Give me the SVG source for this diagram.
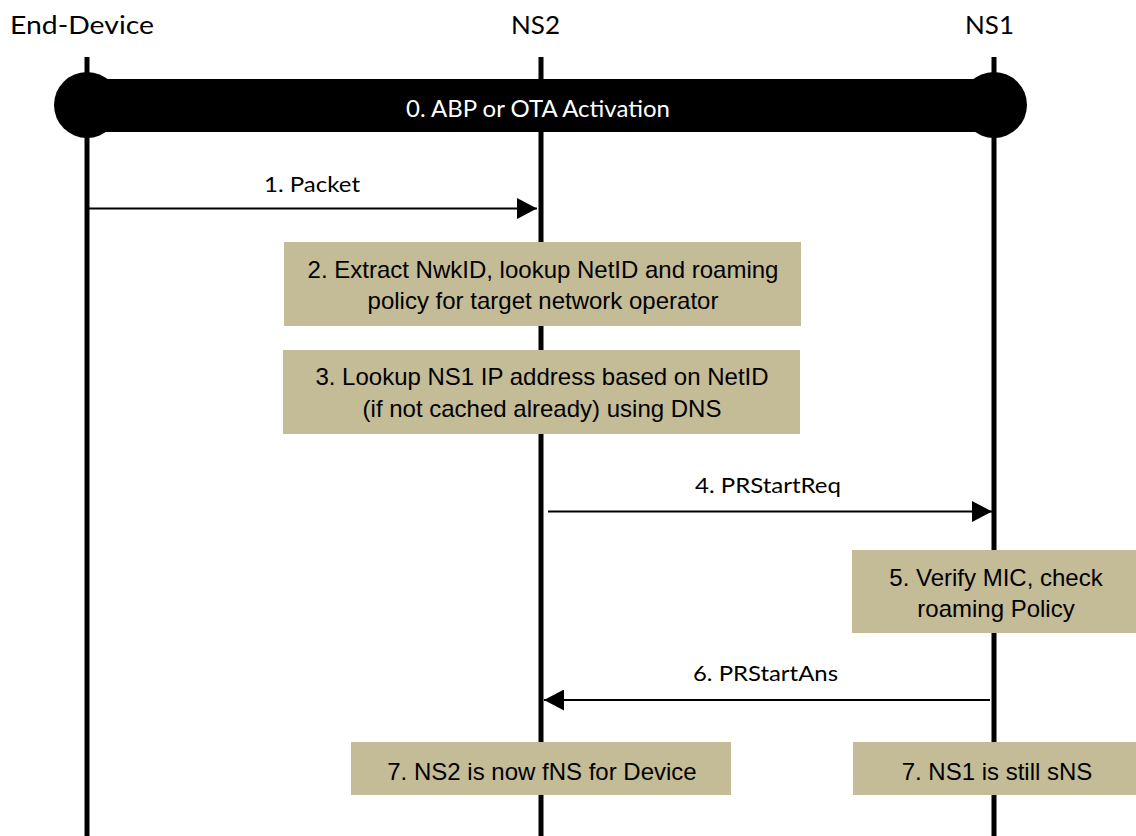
<svg xmlns="http://www.w3.org/2000/svg" width="1136" height="836" viewBox="0 0 1136 836">
  <style>
    .head { font-family: Lato, "Open Sans", "Liberation Sans", sans-serif; font-size: 25px; fill: #000; text-anchor: middle; }
    .msg { font-family: Lato, "Open Sans", "Liberation Sans", sans-serif; font-size: 22px; fill: #000; text-anchor: middle; }
    .act { font-family: Lato, "Open Sans", "Liberation Sans", sans-serif; font-size: 24px; fill: #fff; text-anchor: middle; }
    .note { font-family: "Liberation Sans", Arial, sans-serif; font-size: 24px; fill: #000; text-anchor: middle; }
    .box { fill: #C4BB97; }
    .life { stroke: #000; stroke-width: 5; fill: none; }
    .arrow { stroke: #000; stroke-width: 2; fill: none; }
  </style>
  <defs>
    <marker id="head" markerWidth="20" markerHeight="21" refX="20" refY="10.5" orient="auto" markerUnits="userSpaceOnUse">
      <path d="M0,0 L20,10.5 L0,21 Z" fill="#000"/>
    </marker>
  </defs>

  <rect width="1136" height="836" fill="#fff"/>

  <!-- lifelines -->
  <g id="lifelines">
    <line class="life" x1="87" y1="57" x2="87" y2="836"/>
    <line class="life" x1="541" y1="57" x2="541" y2="836"/>
    <line class="life" x1="994" y1="57" x2="994" y2="836"/>
  </g>

  <g id="end-device">
    <text class="head" x="82" y="34" textLength="144" lengthAdjust="spacingAndGlyphs">End-Device</text>
  </g>
  <g id="ns2">
    <text class="head" x="535.5" y="34" textLength="49" lengthAdjust="spacingAndGlyphs">NS2</text>
  </g>
  <g id="ns1">
    <text class="head" x="989.5" y="34" textLength="49" lengthAdjust="spacingAndGlyphs">NS1</text>
  </g>

  <!-- step 0: activation bar -->
  <g id="activation">
    <circle cx="87" cy="105" r="33" fill="#000"/>
    <circle cx="994" cy="105" r="33" fill="#000"/>
    <rect x="87" y="79" width="907" height="53" fill="#000"/>
    <text class="act" x="538" y="117" textLength="264" lengthAdjust="spacingAndGlyphs">0. ABP or OTA Activation</text>
  </g>

  <!-- messages -->
  <g id="connectors">
    <line class="arrow" x1="89" y1="208.5" x2="537" y2="208.5" marker-end="url(#head)"/>
    <text class="msg" x="312" y="192" textLength="96" lengthAdjust="spacingAndGlyphs">1. Packet</text>

    <line class="arrow" x1="548" y1="511.5" x2="992" y2="511.5" marker-end="url(#head)"/>
    <text class="msg" x="768" y="493" textLength="146" lengthAdjust="spacingAndGlyphs">4. PRStartReq</text>

    <line class="arrow" x1="990" y1="700" x2="544" y2="700" marker-end="url(#head)"/>
    <text class="msg" x="765.5" y="681" textLength="145" lengthAdjust="spacingAndGlyphs">6. PRStartAns</text>
  </g>

  <!-- processing notes -->
  <g id="step2">
    <rect class="box" x="284" y="242" width="517" height="84"/>
    <text class="note" x="543" y="278">2. Extract NwkID, lookup NetID and roaming</text>
    <text class="note" x="543" y="309">policy for target network operator</text>
  </g>
  <g id="step3">
    <rect class="box" x="283" y="350" width="517" height="84"/>
    <text class="note" x="542" y="385">3. Lookup NS1 IP address based on NetID</text>
    <text class="note" x="542" y="417">(if not cached already) using DNS</text>
  </g>
  <g id="step5">
    <rect class="box" x="852" y="550" width="284" height="83"/>
    <text class="note" x="996" y="586">5. Verify MIC, check</text>
    <text class="note" x="996" y="617">roaming Policy</text>
  </g>
  <g id="step7-ns2">
    <rect class="box" x="351" y="742" width="380" height="53"/>
    <text class="note" x="542" y="780">7. NS2 is now fNS for Device</text>
  </g>
  <g id="step7-ns1">
    <rect class="box" x="853" y="742" width="283" height="53"/>
    <text class="note" x="997" y="780">7. NS1 is still sNS</text>
  </g>
</svg>
